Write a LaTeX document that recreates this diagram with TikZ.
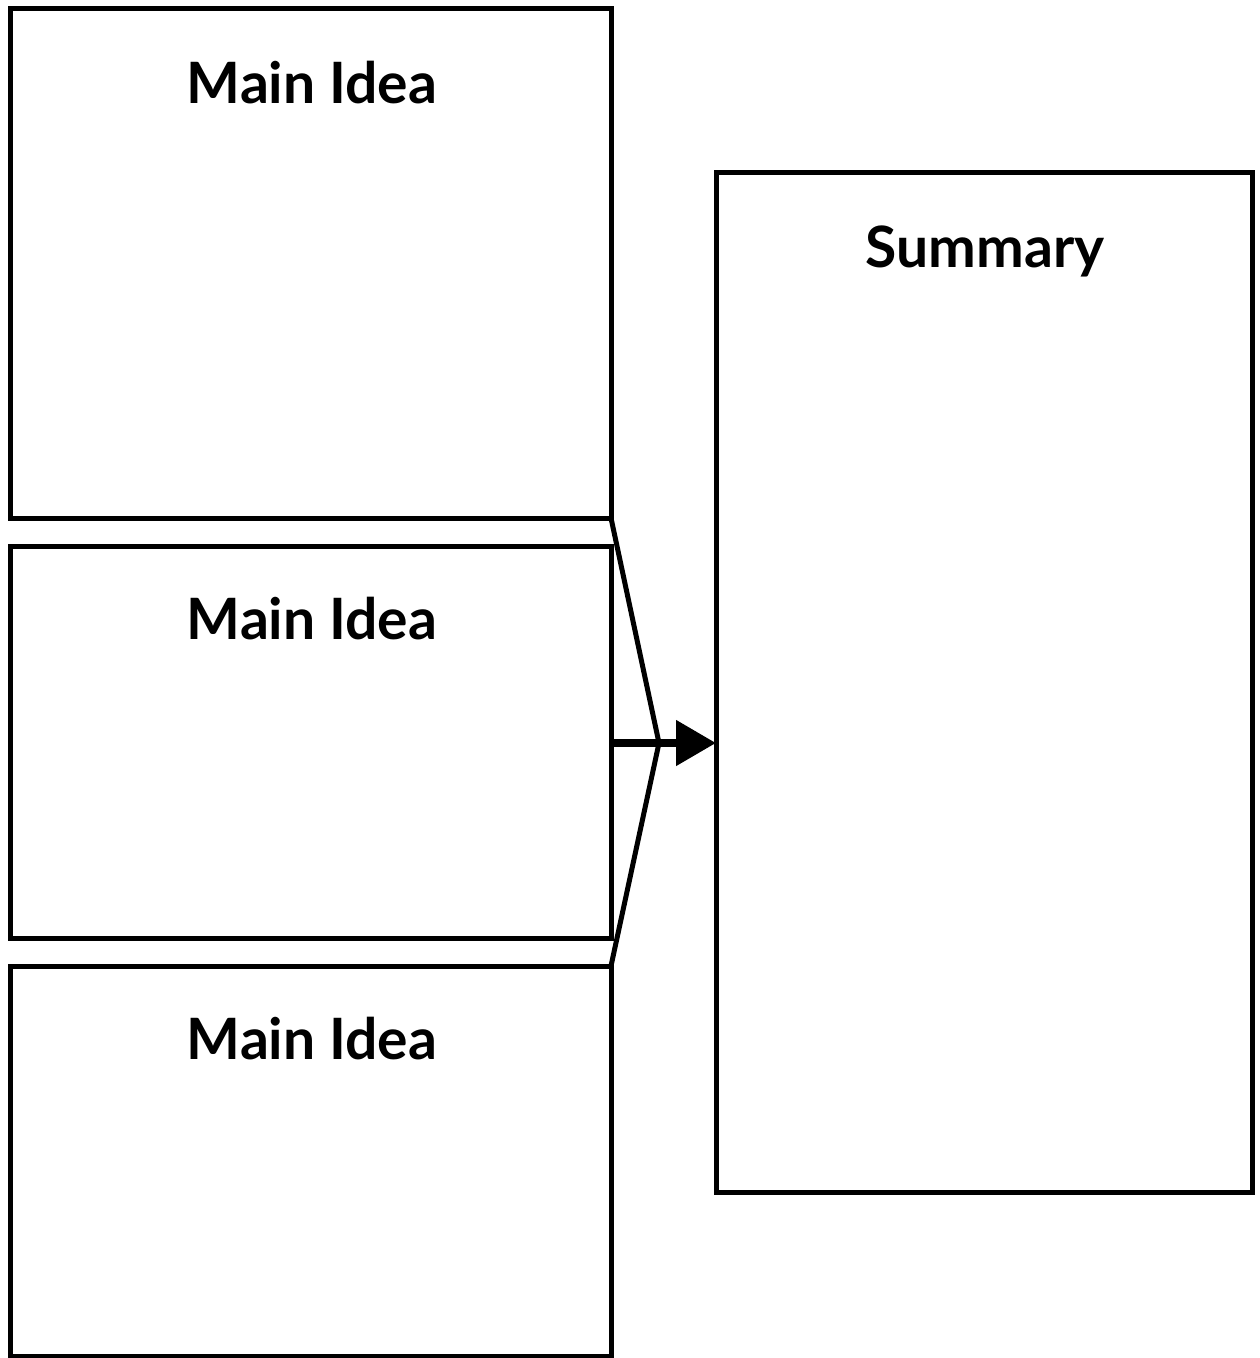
\documentclass[tikz,border=0pt]{standalone}
\usepackage{fontspec}
\setmainfont{Lato}
\usetikzlibrary{arrows.meta}
\begin{document}
\begin{tikzpicture}[x=1pt,y=-1pt,
  box/.style={draw=black,line width=5pt,rectangle,inner sep=0pt,outer sep=0pt,fill=white},
  lbl/.style={font=\fontsize{57}{64}\selectfont\bfseries,anchor=base,inner sep=0pt},
  link/.style={line width=5pt,line join=miter}]
\useasboundingbox[fill=white] (0,0) rectangle (1260,1358);
\node[box,minimum width=601pt,minimum height=510pt] (m1) at (310.5,263) {};
\node[box,minimum width=601pt,minimum height=392pt] (m2) at (310.5,742) {};
\node[box,minimum width=601pt,minimum height=390pt] (m3) at (310.5,1161) {};
\node[box,minimum width=536pt,minimum height=1020pt] (s) at (984,682) {};
\node[lbl] (t1) at (312,103) {Main Idea};
\node[lbl] (t2) at (312,639) {Main Idea};
\node[lbl] (t3) at (312,1059) {Main Idea};
\node[lbl] (ts) at (985,267) {Summary};
\coordinate (j) at (659,743);
\draw[link] (m1.south east) -- (j) -- (m3.north east);
\draw[line width=8pt,-{Triangle[length=40pt,width=44pt]}] (m2.east |- j) -- (s.west |- j);
\end{tikzpicture}
\end{document}
